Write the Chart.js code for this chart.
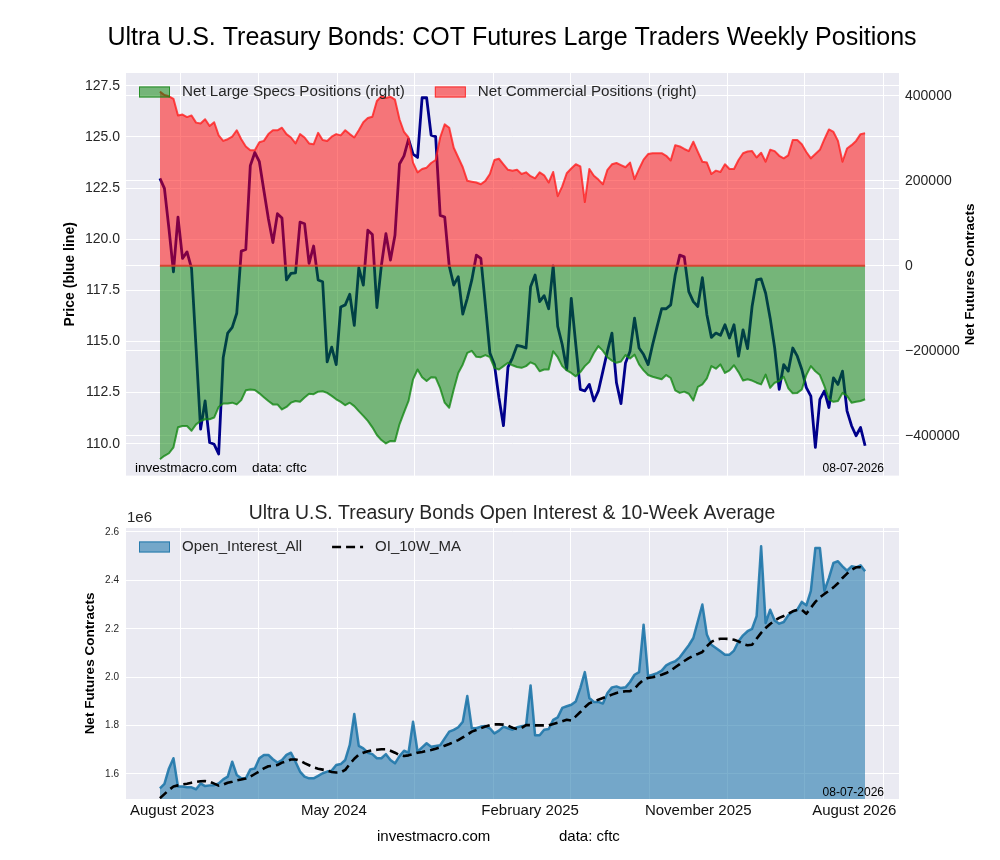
<!DOCTYPE html>
<html>
<head>
<meta charset="utf-8">
<title>Ultra U.S. Treasury Bonds COT</title>
<script src="https://cdn.jsdelivr.net/npm/chart.js@4.4.1/dist/chart.umd.min.js"></script>
<style>
  html, body { margin: 0; padding: 0; background: #fff; }
  #wrap { position: relative; width: 1000px; height: 860px; }
  canvas { position: absolute; left: 0; }
  #cotChart { top: 0; }
  #oiChart { top: 490px; }
</style>
</head>
<body>
<div id="wrap">
  <canvas id="cotChart" width="1000" height="490"></canvas>
  <canvas id="oiChart" width="1000" height="370"></canvas>
</div>
<script>
// weekly values, week 0 = early August 2023, last week = 08-07-2026
const price = [
  122.98, 122.49, 120.52, 118.41, 121.08, 119.06, 119.38, 118.57, 114.68, 110.71,
  112.09, 110.06, 109.97, 109.50, 114.20, 115.41, 115.69, 116.38, 119.42, 119.50,
  123.60, 124.24, 123.79, 122.38, 121.00, 119.84, 121.25, 121.04, 118.01, 118.33,
  118.36, 120.84, 120.76, 118.82, 119.67, 118.01, 117.92, 114.00, 114.72, 113.87,
  116.69, 116.79, 117.31, 115.79, 118.60, 117.76, 120.44, 120.23, 116.66, 118.73,
  120.27, 118.98, 120.19, 123.68, 124.08, 124.89, 124.16, 124.00, 126.92, 126.92,
  125.09, 125.02, 121.17, 121.09, 118.70, 117.76, 118.17, 116.34, 117.11, 118.01,
  119.22, 119.06, 116.79, 114.44, 113.87, 112.25, 110.88, 113.74, 114.20, 114.81,
  114.76, 114.68, 117.68, 118.25, 116.95, 117.24, 116.60, 118.70, 115.74, 114.85,
  113.63, 117.11, 114.85, 112.66, 112.58, 112.90, 112.09, 112.58, 113.55, 114.52,
  115.41, 112.98, 111.96, 113.95, 114.52, 116.14, 114.68, 114.36, 113.87, 114.85,
  115.74, 116.60, 116.60, 116.79, 118.25, 119.22, 119.14, 117.44, 116.95, 116.71,
  118.12, 116.31, 115.20, 115.41, 115.30, 115.82, 115.17, 115.82, 114.28, 115.57,
  114.65, 116.71, 118.01, 118.06, 117.36, 116.14, 114.68, 112.66, 113.87, 113.55,
  114.68, 114.28, 113.63, 112.74, 112.33, 109.82, 112.17, 112.58, 111.77, 113.22,
  112.90, 113.55, 111.61, 110.88, 110.39, 110.79, 109.90
];

const netCommercial = [
  410000, 402000, 399000, 393000, 354000, 356000, 350000, 354000, 337000, 335000,
  345000, 329000, 338000, 307000, 294000, 298000, 304000, 319000, 298000, 281000,
  272000, 272000, 291000, 294000, 310000, 319000, 319000, 325000, 310000, 302000,
  288000, 310000, 302000, 288000, 286000, 313000, 296000, 294000, 304000, 310000,
  307000, 319000, 310000, 302000, 319000, 338000, 348000, 351000, 388000, 399000,
  395000, 398000, 391000, 345000, 315000, 302000, 243000, 220000, 228000, 231000,
  242000, 249000, 302000, 333000, 325000, 278000, 255000, 232000, 200000, 198000,
  196000, 192000, 200000, 216000, 249000, 252000, 239000, 226000, 224000, 226000,
  216000, 220000, 211000, 206000, 220000, 213000, 196000, 221000, 164000, 187000,
  218000, 229000, 239000, 234000, 150000, 228000, 212000, 203000, 192000, 226000,
  239000, 242000, 237000, 232000, 243000, 204000, 228000, 250000, 263000, 265000,
  265000, 265000, 259000, 248000, 284000, 281000, 275000, 270000, 292000, 268000,
  245000, 243000, 216000, 224000, 221000, 239000, 228000, 228000, 249000, 265000,
  269000, 270000, 255000, 266000, 245000, 273000, 270000, 259000, 253000, 260000,
  296000, 296000, 286000, 268000, 253000, 263000, 273000, 298000, 321000, 315000,
  294000, 245000, 276000, 284000, 294000, 310000, 312000
];

const netLargeSpecs = [
  -455000, -447000, -441000, -427000, -380000, -377000, -377000, -388000, -373000, -365000,
  -361000, -361000, -357000, -332000, -324000, -324000, -322000, -326000, -316000, -293000,
  -291000, -292000, -300000, -309000, -318000, -326000, -326000, -338000, -332000, -322000,
  -318000, -320000, -310000, -301000, -302000, -296000, -295000, -299000, -306000, -314000,
  -320000, -328000, -322000, -330000, -342000, -353000, -365000, -380000, -398000, -410000,
  -418000, -412000, -413000, -373000, -345000, -318000, -267000, -244000, -262000, -271000,
  -262000, -263000, -288000, -322000, -334000, -291000, -252000, -232000, -205000, -200000,
  -214000, -215000, -210000, -215000, -240000, -244000, -236000, -228000, -234000, -238000,
  -240000, -236000, -227000, -232000, -248000, -244000, -244000, -201000, -215000, -236000,
  -246000, -252000, -260000, -250000, -236000, -226000, -205000, -189000, -200000, -215000,
  -223000, -228000, -225000, -210000, -218000, -209000, -232000, -246000, -257000, -261000,
  -264000, -267000, -257000, -264000, -293000, -299000, -296000, -301000, -317000, -285000,
  -279000, -265000, -236000, -242000, -232000, -252000, -246000, -234000, -250000, -270000,
  -267000, -270000, -275000, -279000, -256000, -287000, -275000, -271000, -261000, -288000,
  -300000, -299000, -291000, -257000, -236000, -248000, -257000, -283000, -314000, -320000,
  -318000, -299000, -306000, -322000, -320000, -318000, -314000
];

const openInterest = [
  1541000, 1559000, 1623000, 1665000, 1548000, 1548000, 1545000, 1545000, 1537000, 1561000,
  1550000, 1553000, 1554000, 1561000, 1578000, 1589000, 1651000, 1596000, 1582000, 1582000,
  1619000, 1623000, 1665000, 1679000, 1679000, 1661000, 1647000, 1658000, 1679000, 1688000,
  1651000, 1610000, 1589000, 1582000, 1582000, 1592000, 1603000, 1610000, 1614000, 1637000,
  1641000, 1658000, 1720000, 1848000, 1716000, 1706000, 1688000, 1682000, 1665000, 1665000,
  1682000, 1658000, 1644000, 1674000, 1696000, 1688000, 1816000, 1692000, 1710000, 1727000,
  1713000, 1716000, 1719000, 1747000, 1775000, 1782000, 1793000, 1816000, 1922000, 1789000,
  1789000, 1796000, 1798000, 1789000, 1768000, 1779000, 1796000, 1789000, 1783000, 1793000,
  1797000, 1801000, 1966000, 1760000, 1760000, 1783000, 1786000, 1824000, 1834000, 1873000,
  1880000, 1886000, 1900000, 1955000, 2021000, 1914000, 1898000, 1898000, 1891000, 1935000,
  1958000, 1962000, 1955000, 1958000, 1980000, 2010000, 2021000, 2217000, 2004000, 2010000,
  2017000, 2027000, 2049000, 2059000, 2066000, 2082000, 2107000, 2132000, 2162000, 2231000,
  2300000, 2176000, 2134000, 2121000, 2107000, 2093000, 2093000, 2110000, 2148000, 2173000,
  2190000, 2200000, 2252000, 2541000, 2224000, 2279000, 2234000, 2221000, 2228000, 2256000,
  2272000, 2279000, 2311000, 2297000, 2357000, 2534000, 2534000, 2357000, 2410000, 2472000,
  2479000, 2458000, 2440000, 2458000, 2454000, 2462000, 2438000
];

const oi10wMa = [
  1500000, 1517000, 1534000, 1548000, 1553000, 1557000, 1560000, 1564000, 1567000, 1570000,
  1571000, 1568000, 1560000, 1552000, 1556000, 1564000, 1568000, 1574000, 1577000, 1581000,
  1589000, 1600000, 1611000, 1623000, 1632000, 1634000, 1637000, 1647000, 1653000, 1660000,
  1660000, 1655000, 1645000, 1636000, 1627000, 1622000, 1618000, 1614000, 1608000, 1606000,
  1607000, 1617000, 1641000, 1663000, 1680000, 1688000, 1694000, 1698000, 1700000, 1702000,
  1702000, 1696000, 1688000, 1678000, 1674000, 1677000, 1682000, 1688000, 1691000, 1695000,
  1699000, 1704000, 1710000, 1717000, 1724000, 1732000, 1740000, 1751000, 1762000, 1775000,
  1782000, 1789000, 1796000, 1802000, 1805000, 1805000, 1804000, 1800000, 1791000, 1786000,
  1790000, 1802000, 1802000, 1801000, 1801000, 1801000, 1801000, 1807000, 1812000, 1818000,
  1824000, 1821000, 1838000, 1856000, 1876000, 1892000, 1900000, 1907000, 1914000, 1921000,
  1928000, 1935000, 1939000, 1942000, 1942000, 1953000, 1973000, 1990000, 1997000, 2000000,
  2004000, 2010000, 2017000, 2027000, 2041000, 2054000, 2067000, 2079000, 2089000, 2096000,
  2104000, 2128000, 2146000, 2155000, 2159000, 2159000, 2158000, 2155000, 2148000, 2137000,
  2132000, 2134000, 2159000, 2183000, 2203000, 2220000, 2234000, 2245000, 2253000, 2262000,
  2272000, 2278000, 2278000, 2262000, 2287000, 2311000, 2330000, 2344000, 2357000, 2371000,
  2388000, 2410000, 2428000, 2443000, 2454000, 2454000, 2444000
];

// x axis: month gridlines and date labels, in weeks from the first report
const gridWeeks = [4.6, 21.9, 39.2, 56.4, 73.7, 90.9, 108.2, 125.5, 142.6, 160.0];
const dateLabels = ['August 2023', 'May 2024', 'February 2025', 'November 2025', 'August 2026'];
const dateLabelWeeks = [2.7, 38.5, 81.9, 119.1, 153.6];

const priceTicks = [110, 112.5, 115, 117.5, 120, 122.5, 125, 127.5];
const netTicks = [-400000, -200000, 0, 200000, 400000];
const oiTicks = [1600000, 1800000, 2000000, 2200000, 2400000, 2600000];

const lastDate = '08-07-2026';
const xMin = -7.5, xMax = 163.5;

const FONT = "'Liberation Sans', Arial, sans-serif";
Chart.defaults.font.family = FONT;
Chart.defaults.color = '#262626';
Chart.defaults.animation = false;

const pts = arr => arr.map((v, i) => ({x: i, y: v}));
const fixTicks = list => axis => { axis.ticks = list.map(v => ({value: v})); };
const minus = v => String(v).replace('-', '\u2212');

// seaborn style axes background
const areaBg = {
  id: 'areaBg',
  beforeDraw(chart) {
    const {ctx, chartArea: a} = chart;
    ctx.save();
    ctx.fillStyle = '#eaeaf2';
    ctx.fillRect(a.left, a.top, a.width, a.height);
    ctx.restore();
  }
};

// edge of the two filled areas along zero, only over the data range
const zeroEdge = {
  id: 'zeroEdge',
  afterDatasetsDraw(chart, args, opts) {
    if (!opts.axis) return;
    const {ctx, scales} = chart;
    const y = scales[opts.axis].getPixelForValue(0);
    const x0 = scales.x.getPixelForValue(0);
    const x1 = scales.x.getPixelForValue(opts.count - 1);
    ctx.save();
    ctx.strokeStyle = 'rgba(215,60,40,0.9)';
    ctx.lineWidth = 2;
    ctx.beginPath();
    ctx.moveTo(x0, y);
    ctx.lineTo(x1, y);
    ctx.stroke();
    ctx.restore();
  }
};

// legend inside plot, drawn over the fills
const boxLegend = {
  id: 'boxLegend',
  afterDatasetsDraw(chart, args, opts) {
    const {ctx, chartArea: a} = chart;
    let x = a.left + 13;
    const y = a.top + 19;
    ctx.save();
    ctx.font = opts.font;
    ctx.textBaseline = 'middle';
    opts.order.forEach(idx => {
      const ds = chart.data.datasets[idx];
      if (ds.borderDash) {
        ctx.strokeStyle = ds.borderColor;
        ctx.lineWidth = ds.borderWidth;
        ctx.setLineDash(ds.borderDash);
        ctx.beginPath();
        ctx.moveTo(x, y);
        ctx.lineTo(x + 31, y);
        ctx.stroke();
        ctx.setLineDash([]);
      } else {
        ctx.fillStyle = ds.backgroundColor;
        ctx.fillRect(x, y - 5.5, 31, 11);
        ctx.strokeStyle = ds.borderColor;
        ctx.lineWidth = 1;
        ctx.strokeRect(x + 0.5, y - 5, 30, 10);
      }
      ctx.fillStyle = '#262626';
      ctx.fillText(ds.label, x + 43, y);
      x += 43 + ctx.measureText(ds.label).width + 30;
    });
    ctx.restore();
  }
};

// free text placed relative to the plot area
const notes = {
  id: 'notes',
  afterDraw(chart, args, opts) {
    const {ctx, chartArea: a} = chart;
    opts.items.forEach(n => {
      const x = (n.ax === 'right' ? a.right : a.left) + n.dx;
      const y = n.ay === 'mid' ? (a.top + a.bottom) / 2 : (n.ay === 'top' ? a.top : a.bottom) + n.dy;
      ctx.save();
      ctx.font = n.font;
      ctx.fillStyle = n.color || '#000';
      ctx.textAlign = n.align || 'left';
      ctx.textBaseline = 'middle';
      ctx.translate(x, y);
      if (n.rotate) ctx.rotate(n.rotate);
      ctx.fillText(n.text, 0, 0);
      ctx.restore();
    });
  }
};

new Chart(document.getElementById('cotChart'), {
  type: 'line',
  data: {
    datasets: [
      {
        label: 'Net Large Specs Positions (right)',
        data: pts(netLargeSpecs),
        yAxisID: 'y2',
        borderColor: 'rgba(20,135,20,0.8)',
        backgroundColor: 'rgba(0,128,0,0.5)',
        borderWidth: 2,
        fill: 'origin'
      },
      {
        label: 'Net Commercial Positions (right)',
        data: pts(netCommercial),
        yAxisID: 'y2',
        borderColor: 'rgba(255,30,30,0.8)',
        backgroundColor: 'rgba(255,0,0,0.5)',
        borderWidth: 2,
        fill: 'origin'
      },
      {
        label: 'Price',
        data: pts(price),
        yAxisID: 'y',
        borderColor: '#00008b',
        borderWidth: 2.8,
        fill: false
      }
    ]
  },
  options: {
    responsive: false,
    elements: { point: { radius: 0 }, line: { tension: 0, borderJoinStyle: 'round' } },
    layout: { padding: { left: 24, right: 0, top: 0, bottom: 12 } },
    plugins: {
      legend: { display: false },
      tooltip: { enabled: false },
      title: {
        display: true,
        text: 'Ultra U.S. Treasury Bonds: COT Futures Large Traders Weekly Positions',
        font: { size: 25, weight: 'normal' },
        color: '#000',
        padding: { top: 23.4, bottom: 19.6 }
      },
      zeroEdge: { axis: 'y2', count: netCommercial.length },
      boxLegend: { font: '15.2px ' + FONT, order: [0, 1] },
      notes: {
        items: [
          { text: 'investmacro.com', ax: 'left', dx: 9, ay: 'bottom', dy: -7, font: '13.5px ' + FONT },
          { text: 'data: cftc', ax: 'left', dx: 126, ay: 'bottom', dy: -7, font: '13.5px ' + FONT },
          { text: lastDate, ax: 'right', dx: -15, ay: 'bottom', dy: -7, align: 'right', font: '12px ' + FONT },
          { text: 'Net Futures Contracts', ax: 'right', dx: 71, ay: 'mid', align: 'center', rotate: -Math.PI / 2, font: 'bold 13.5px ' + FONT }
        ]
      }
    },
    scales: {
      x: {
        type: 'linear', min: xMin, max: xMax,
        afterBuildTicks: fixTicks(gridWeeks),
        afterFit: s => { s.height = 0; },
        ticks: { display: false },
        grid: { color: '#fff', drawTicks: false },
        border: { display: false }
      },
      y: {
        position: 'left', min: 108.44, max: 128.13,
        afterBuildTicks: fixTicks(priceTicks),
        afterFit: s => { s.width = 102; },
        ticks: { callback: v => v.toFixed(1), font: { size: 14 }, padding: 6 },
        grid: { color: '#fff', drawTicks: false },
        border: { display: false },
        title: {
          display: true, text: 'Price (blue line)', color: '#000',
          font: { size: 14, weight: 'bold' }, padding: { top: 38 }
        }
      },
      y2: {
        position: 'right', min: -493600, max: 453800,
        afterBuildTicks: fixTicks(netTicks),
        afterFit: s => { s.width = 101; },
        ticks: { callback: v => minus(v), font: { size: 14 }, padding: 6 },
        grid: { color: '#fff', drawTicks: false },
        border: { display: false }
      }
    }
  },
  plugins: [areaBg, zeroEdge, boxLegend, notes]
});

new Chart(document.getElementById('oiChart'), {
  type: 'line',
  data: {
    datasets: [
      {
        label: 'OI_10W_MA',
        data: pts(oi10wMa),
        borderColor: '#000',
        borderDash: [9, 5],
        borderWidth: 2.6,
        fill: false
      },
      {
        label: 'Open_Interest_All',
        data: pts(openInterest),
        borderColor: 'rgba(31,119,170,0.9)',
        backgroundColor: 'rgba(31,119,170,0.58)',
        borderWidth: 2.5,
        fill: 'start'
      }
    ]
  },
  options: {
    responsive: false,
    elements: { point: { radius: 0 }, line: { tension: 0, borderJoinStyle: 'round' } },
    layout: { padding: { left: 24, right: 0, top: 0, bottom: 0 } },
    plugins: {
      legend: { display: false },
      tooltip: { enabled: false },
      title: {
        display: true,
        text: 'Ultra U.S. Treasury Bonds Open Interest & 10-Week Average',
        font: { size: 19.4, weight: 'normal' },
        color: '#262626',
        padding: { top: 12.4, bottom: 2.3 }
      },
      boxLegend: { font: '15px ' + FONT, order: [1, 0] },
      notes: {
        items: [
          { text: '1e6', ax: 'left', dx: 1, ay: 'top', dy: -10, font: '15px ' + FONT, color: '#262626' },
          { text: lastDate, ax: 'right', dx: -15, ay: 'bottom', dy: -6, align: 'right', font: '12px ' + FONT },
          { text: 'investmacro.com', ax: 'left', dx: 251, ay: 'bottom', dy: 38, font: '15px ' + FONT },
          { text: 'data: cftc', ax: 'left', dx: 433, ay: 'bottom', dy: 38, font: '15px ' + FONT }
        ]
      }
    },
    scales: {
      x: {
        type: 'linear', min: xMin, max: xMax,
        afterBuildTicks: fixTicks(gridWeeks),
        afterFit: s => { s.height = 0; },
        ticks: { display: false },
        grid: { color: '#fff', drawTicks: false },
        border: { display: false }
      },
      xl: {
        type: 'linear', axis: 'x', position: 'bottom', min: xMin, max: xMax,
        afterBuildTicks: fixTicks(dateLabelWeeks),
        afterFit: s => { s.height = 61; },
        ticks: {
          callback: (v, i) => dateLabels[i],
          font: { size: 15 }, color: '#111', padding: 3,
          autoSkip: false, maxRotation: 0
        },
        grid: { display: false, drawTicks: false },
        border: { display: false }
      },
      y: {
        position: 'left', min: 1496700, max: 2616500,
        afterBuildTicks: fixTicks(oiTicks),
        afterFit: s => { s.width = 102; },
        ticks: { callback: v => (v / 1e6).toFixed(1), font: { size: 10 }, padding: 7 },
        grid: { color: '#fff', drawTicks: false },
        border: { display: false },
        title: {
          display: true, text: 'Net Futures Contracts', color: '#000',
          font: { size: 13.5, weight: 'bold' }, padding: { top: 58 }
        }
      },
      // empty right margin so the plot lines up with the chart above
      yr: {
        position: 'right', min: 1496700, max: 2616500,
        afterFit: s => { s.width = 101; },
        ticks: { display: false },
        grid: { display: false, drawTicks: false },
        border: { display: false }
      }
    }
  },
  plugins: [areaBg, zeroEdge, boxLegend, notes]
});
</script>
</body>
</html>
